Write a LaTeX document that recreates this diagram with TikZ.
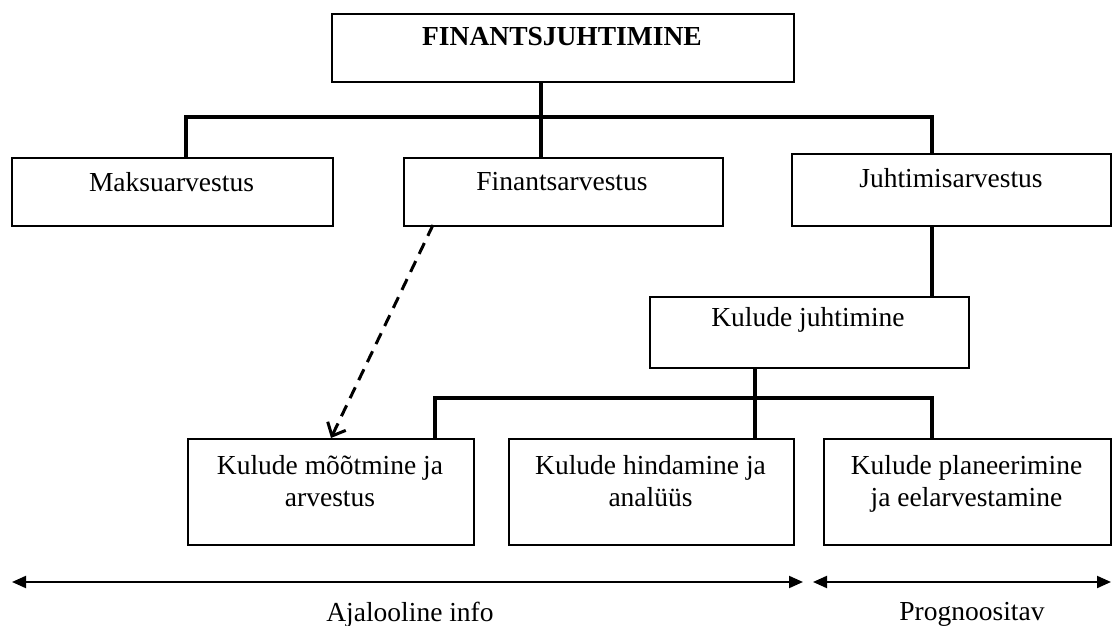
\documentclass[tikz,border=0pt]{standalone}
\usepackage{fontspec}
\setmainfont{Liberation Serif}
\usetikzlibrary{arrows.meta}
\begin{document}
\begin{tikzpicture}[x=1pt,y=-1pt,
  box/.style={draw, line width=2pt, inner sep=0pt, anchor=north west},
  lbl/.style={inner sep=0pt, font=\fontsize{27.5pt}{32pt}\selectfont},
  conn/.style={line width=3.4pt},
  dasharrow/.style={line width=3pt, dash pattern=on 12pt off 8pt, -{Straight Barb[length=11pt,width=20pt,line width=3pt]}},
  span/.style={line width=2pt, {Triangle[length=14pt,width=12pt]}-{Triangle[length=14pt,width=12pt]}}
]
\useasboundingbox (0,0) rectangle (1112,626);

% boxes
\node[box, minimum width=462pt, minimum height=68pt] (top) at (331,13) {};
\node[box, minimum width=321pt, minimum height=68pt] (maks) at (11,157) {};
\node[box, minimum width=319pt, minimum height=68pt] (fin) at (403,157) {};
\node[box, minimum width=319pt, minimum height=72pt] (juht) at (791,153) {};
\node[box, minimum width=319pt, minimum height=71pt] (kj) at (649,296) {};
\node[box, minimum width=286pt, minimum height=106pt] (b1) at (187,438) {};
\node[box, minimum width=285pt, minimum height=106pt] (b2) at (508,438) {};
\node[box, minimum width=287pt, minimum height=106pt] (b3) at (823,438) {};

% texts
\node[lbl, font=\fontsize{27.5pt}{32pt}\selectfont\bfseries] (top-t) at (562,37) {FINANTSJUHTIMINE};
\node[lbl] (maks-t) at (171.5,182) {Maksuarvestus};
\node[lbl] (fin-t) at (562,182) {Finantsarvestus};
\node[lbl] (juht-t) at (951,178) {Juhtimisarvestus};
\node[lbl] (kj-t) at (808,320) {Kulude juhtimine};
\node[lbl, align=center, anchor=north] (b1-t) at (330,455) {Kulude mõõtmine ja\\arvestus};
\node[lbl, align=center, anchor=north] (b2-t) at (650.5,455) {Kulude hindamine ja\\analüüs};
\node[lbl, align=center, anchor=north] (b3-t) at (966.5,455) {Kulude planeerimine\\ja eelarvestamine};
\node[lbl] (ajal) at (410,615) {Ajalooline info};
\node[lbl] (prog) at (972,614) {Prognoositav};

% helper coordinates
\coordinate (c1) at (541,117);
\coordinate (cL) at (186,117);
\coordinate (cR) at (932,117);
\coordinate (d1) at (755,398);
\coordinate (dL) at (435,398);
\coordinate (dR) at (932,398);
\coordinate (fs) at (433,225);

% connectors
\draw[conn] (top.south -| c1) -- (fin.north -| c1);
\draw[conn] (maks.north -| cL) -- (cL) -- (cR) -- (juht.north -| cR);
\draw[conn] (juht.south -| cR) -- (kj.north -| cR);
\draw[conn] (kj.south -| d1) -- (b2.north -| d1);
\draw[conn] (b1.north -| dL) -- (dL) -- (dR) -- (b3.north -| dR);
\draw[dasharrow] (fs) -- (b1.north);

% spans
\coordinate (a1) at (12,582);
\coordinate (a2) at (803,582);
\coordinate (a3) at (813,582);
\coordinate (a4) at (1111,582);
\draw[span] (a1) -- (a2);
\draw[span] (a3) -- (a4);
\end{tikzpicture}
\end{document}
